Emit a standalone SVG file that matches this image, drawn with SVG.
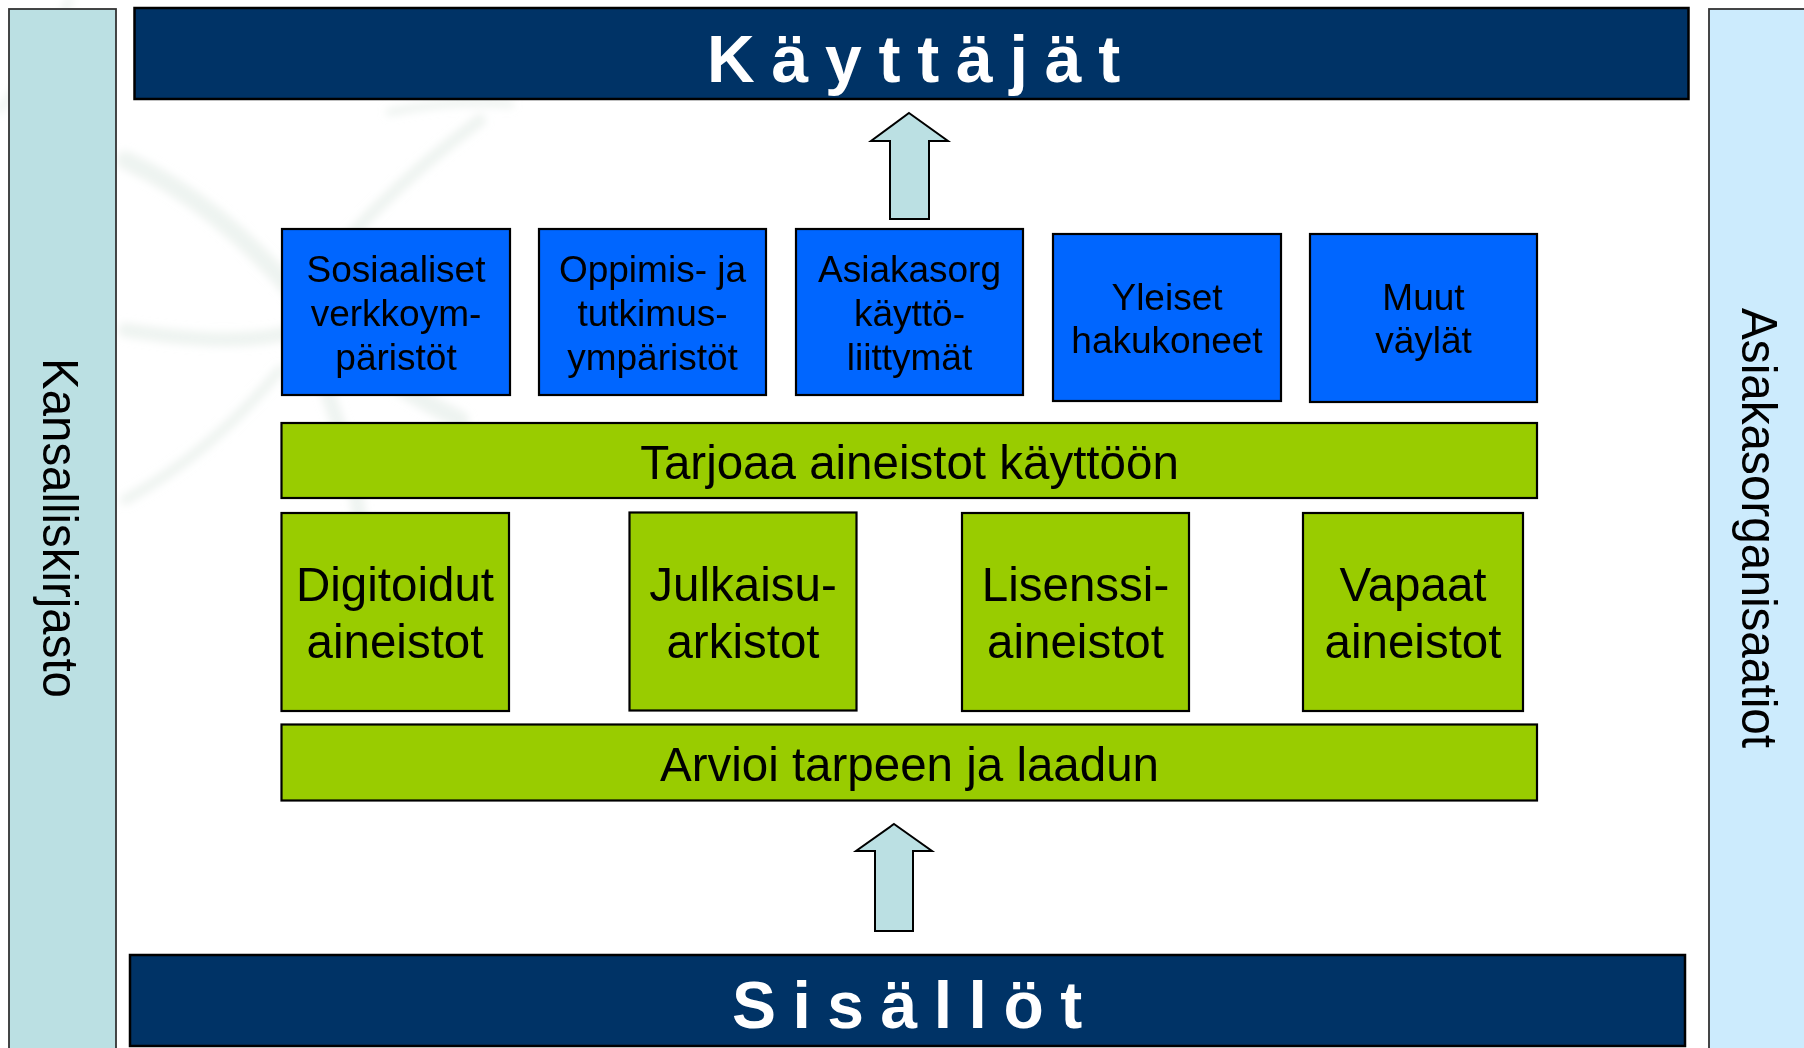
<svg xmlns="http://www.w3.org/2000/svg" width="1804" height="1048" viewBox="0 0 1804 1048">
<defs>
<style>
text{font-family:"Liberation Sans",Arial,sans-serif;fill:#000}
.banner{fill:#003366;stroke:#000;stroke-width:2.5}
.bannerText{font-weight:bold;font-size:66px;fill:#fff}
.blue{fill:#0066FF;stroke:#000;stroke-width:2.2}
.green{fill:#99CC00;stroke:#000;stroke-width:2.2}
.blueText{font-size:37px;text-anchor:middle}
.greenText{font-size:47.5px;text-anchor:middle}
.side{stroke:#333;stroke-width:1.8}
.sideText{font-size:50px;text-anchor:middle}
.arrow{fill:#BBE0E3;stroke:#000;stroke-width:2;stroke-linejoin:miter}
.wm{fill:none;stroke:#d9e4de;stroke-linecap:round;opacity:0.45}
</style>
<filter id="soft" x="-20%" y="-20%" width="140%" height="140%"><feGaussianBlur stdDeviation="4"/></filter>
</defs>
<rect x="0" y="0" width="1804" height="1048" fill="#fff"/>
<g id="watermark" filter="url(#soft)">
<path class="wm" d="M125 160 C190 190 250 240 300 300 C340 350 400 390 460 420" stroke-width="18"/>
<path class="wm" d="M300 300 C340 240 400 180 480 120" stroke-width="12"/>
<path class="wm" d="M125 330 C190 340 250 345 300 330 C330 390 350 450 360 520" stroke-width="14"/>
<path class="wm" d="M125 500 C180 470 230 430 280 370" stroke-width="10"/>
<path class="wm" d="M0 110 C30 70 50 40 70 0" stroke-width="7"/>
<path class="wm" d="M390 112 C430 104 470 100 510 104" stroke-width="8"/>
</g>
<g id="kansalliskirjasto">
<rect class="side" x="9" y="9" width="107" height="1050" fill="#BBE0E3"/>
<text class="sideText" transform="translate(43,528) rotate(90)" textLength="340" lengthAdjust="spacingAndGlyphs">Kansalliskirjasto</text>
</g>
<g id="asiakasorganisaatiot">
<rect class="side" x="1709" y="9" width="110" height="1050" fill="#CCEBFD"/>
<text class="sideText" transform="translate(1742,528) rotate(90)" textLength="440" lengthAdjust="spacingAndGlyphs">Asiakasorganisaatiot</text>
</g>
<g id="kayttajat">
<rect class="banner" x="134.5" y="8" width="1554" height="91"/>
<text class="bannerText" x="707" y="82" letter-spacing="16.8">Käyttäjät</text>
</g>
<g id="sisallot">
<rect class="banner" x="130" y="955" width="1555" height="91"/>
<text class="bannerText" x="732" y="1028" letter-spacing="16.5">Sisällöt</text>
</g>
<g id="connectors">
<polygon class="arrow" points="909,113 948,141 929,141 929,219 890,219 890,141 871,141"/>
<polygon class="arrow" points="894,824 932,851 913,851 913,931 875,931 875,851 856,851"/>
</g>
<g id="sosiaaliset">
<rect class="blue" x="282" y="229" width="228" height="166"/>
<text class="blueText" x="396" y="282">Sosiaaliset</text>
<text class="blueText" x="396" y="326">verkkoym-</text>
<text class="blueText" x="396" y="370">päristöt</text>
</g>
<g id="oppimis">
<rect class="blue" x="539" y="229" width="227" height="166"/>
<text class="blueText" x="652.5" y="282">Oppimis- ja</text>
<text class="blueText" x="652.5" y="326">tutkimus-</text>
<text class="blueText" x="652.5" y="370">ympäristöt</text>
</g>
<g id="asiakasorg">
<rect class="blue" x="796" y="229" width="227" height="166"/>
<text class="blueText" x="909.5" y="282">Asiakasorg</text>
<text class="blueText" x="909.5" y="326">käyttö-</text>
<text class="blueText" x="909.5" y="370">liittymät</text>
</g>
<g id="yleiset">
<rect class="blue" x="1053" y="234" width="228" height="167"/>
<text class="blueText" x="1167" y="310">Yleiset</text>
<text class="blueText" x="1167" y="353">hakukoneet</text>
</g>
<g id="muut">
<rect class="blue" x="1310" y="234" width="227" height="168"/>
<text class="blueText" x="1423.5" y="310">Muut</text>
<text class="blueText" x="1423.5" y="353">väylät</text>
</g>
<g id="tarjoaa">
<rect class="green" x="281.5" y="423" width="1255.5" height="75"/>
<text class="greenText" x="909.5" y="479">Tarjoaa aineistot käyttöön</text>
</g>
<g id="digitoidut">
<rect class="green" x="281.5" y="513" width="227.5" height="198"/>
<text class="greenText" x="395" y="601">Digitoidut</text>
<text class="greenText" x="395" y="658">aineistot</text>
</g>
<g id="julkaisu">
<rect class="green" x="629.5" y="512.5" width="227" height="198"/>
<text class="greenText" x="743" y="601">Julkaisu-</text>
<text class="greenText" x="743" y="658">arkistot</text>
</g>
<g id="lisenssi">
<rect class="green" x="962" y="513" width="227" height="198"/>
<text class="greenText" x="1075.5" y="601">Lisenssi-</text>
<text class="greenText" x="1075.5" y="658">aineistot</text>
</g>
<g id="vapaat">
<rect class="green" x="1303" y="513" width="220" height="198"/>
<text class="greenText" x="1413" y="601">Vapaat</text>
<text class="greenText" x="1413" y="658">aineistot</text>
</g>
<g id="arvioi">
<rect class="green" x="281.5" y="724.5" width="1255.5" height="76"/>
<text class="greenText" x="909.5" y="781">Arvioi tarpeen ja laadun</text>
</g>
</svg>
